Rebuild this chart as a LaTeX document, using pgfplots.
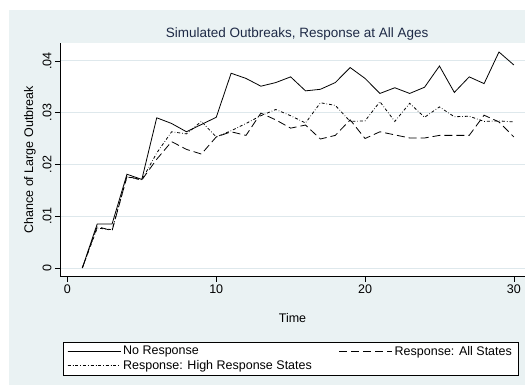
\documentclass[border=0pt]{standalone}
\usepackage{pgfplots}
\pgfplotsset{compat=1.18}
\usepackage{fontspec}
\setmainfont{Liberation Sans}
\definecolor{bgc}{RGB}{234,242,243}
\definecolor{gridc}{RGB}{222,232,236}
\definecolor{titc}{RGB}{30,42,70}
\begin{document}
\begin{tikzpicture}
\useasboundingbox (0pt,0pt) rectangle (525pt,390pt);
\path[fill=white] (0pt,0pt) rectangle (525pt,390pt);
\path[fill=bgc] (9pt,5pt) rectangle (525pt,380pt);
\begin{axis}[
  at={(60pt,113.3pt)}, anchor=south west,
  scale only axis, width=465pt, height=233.7pt,
  xmin=-0.5, xmax=30.75, ymin=-0.00168, ymax=0.04344,
  scaled y ticks=false,
  axis x line*=bottom, axis y line*=left,
  axis line style={-, black, line width=0.6pt},
  axis background/.style={fill=white},
  tick align=outside, major tick length=5pt,
  tick style={black, line width=0.6pt},
  xtick={0,10,20,30},
  ytick={0,0.01,0.02,0.03,0.04},
  yticklabels={0,.01,.02,.03,.04},
  yticklabel style={rotate=90, anchor=south},
  ymajorgrids, grid style={gridc, line width=0.8pt},
  /pgf/number format/assume math mode=true,
  ticklabel style={font=\fontsize{12.5}{14}\selectfont},
  xlabel={Time},
  ylabel={Chance of Large Outbreak},
  label style={font=\fontsize{12.5}{15}\selectfont},
  xlabel style={yshift=-12pt},
  title={Simulated Outbreaks, Response at All Ages},
  title style={font=\fontsize{13.5}{16}\selectfont, color=titc, at={(axis description cs:0.51,1)}, anchor=south, yshift=-7pt},
  legend columns=2,
  legend cell align=left,
  legend style={at={(axis description cs:0.0065,-0.278)}, anchor=north west,
    draw=black, line width=0.6pt, fill=white, font=\fontsize{12.5}{14}\selectfont,
    inner xsep=4pt, inner ysep=2pt,
    /tikz/every even column/.append style={column sep=25pt}},
  legend image code/.code={\draw[#1] (0pt,0pt) -- (47pt,0pt); \path (0pt,0pt) -- (53pt,0pt);},
]
\addplot[black, line width=0.8pt] coordinates {
(1,0) (2,0.0085) (3,0.0085) (4,0.0181) (5,0.0171) (6,0.0290) (7,0.0279) (8,0.0263) (9,0.0277) (10,0.0291)
(11,0.0376) (12,0.0366) (13,0.0351) (14,0.0358) (15,0.0369) (16,0.0342) (17,0.0345) (18,0.0358) (19,0.0387) (20,0.0366)
(21,0.0337) (22,0.0348) (23,0.0337) (24,0.0349) (25,0.0390) (26,0.0339) (27,0.0369) (28,0.0356) (29,0.0417) (30,0.0392)};
\addlegendentry{No Response}
\addplot[black, line width=0.8pt, dash pattern=on 8pt off 4pt] coordinates {
(1,0) (2,0.0080) (3,0.0072) (4,0.0177) (5,0.0170) (6,0.0210) (7,0.0244) (8,0.0229) (9,0.0220) (10,0.0253)
(11,0.0263) (12,0.0256) (13,0.0299) (14,0.0286) (15,0.0270) (16,0.0276) (17,0.0249) (18,0.0256) (19,0.0286) (20,0.0250)
(21,0.0263) (22,0.0257) (23,0.0251) (24,0.0251) (25,0.0256) (26,0.0256) (27,0.0256) (28,0.0295) (29,0.0282) (30,0.0253)};
\addlegendentry{Response: All States}
\addplot[black, line width=0.8pt, dash pattern=on 3pt off 2pt on 0.6pt off 2pt] coordinates {
(1,0) (2,0.0077) (3,0.0074) (4,0.0176) (5,0.0170) (6,0.0222) (7,0.0263) (8,0.0259) (9,0.0283) (10,0.0253)
(11,0.0265) (12,0.0279) (13,0.0294) (14,0.0306) (15,0.0294) (16,0.0280) (17,0.0319) (18,0.0314) (19,0.0283) (20,0.0284)
(21,0.0321) (22,0.0283) (23,0.0318) (24,0.0291) (25,0.0311) (26,0.0292) (27,0.0293) (28,0.0283) (29,0.0284) (30,0.0282)};
\addlegendentry{Response: High Response States}
\end{axis}
\end{tikzpicture}
\end{document}
